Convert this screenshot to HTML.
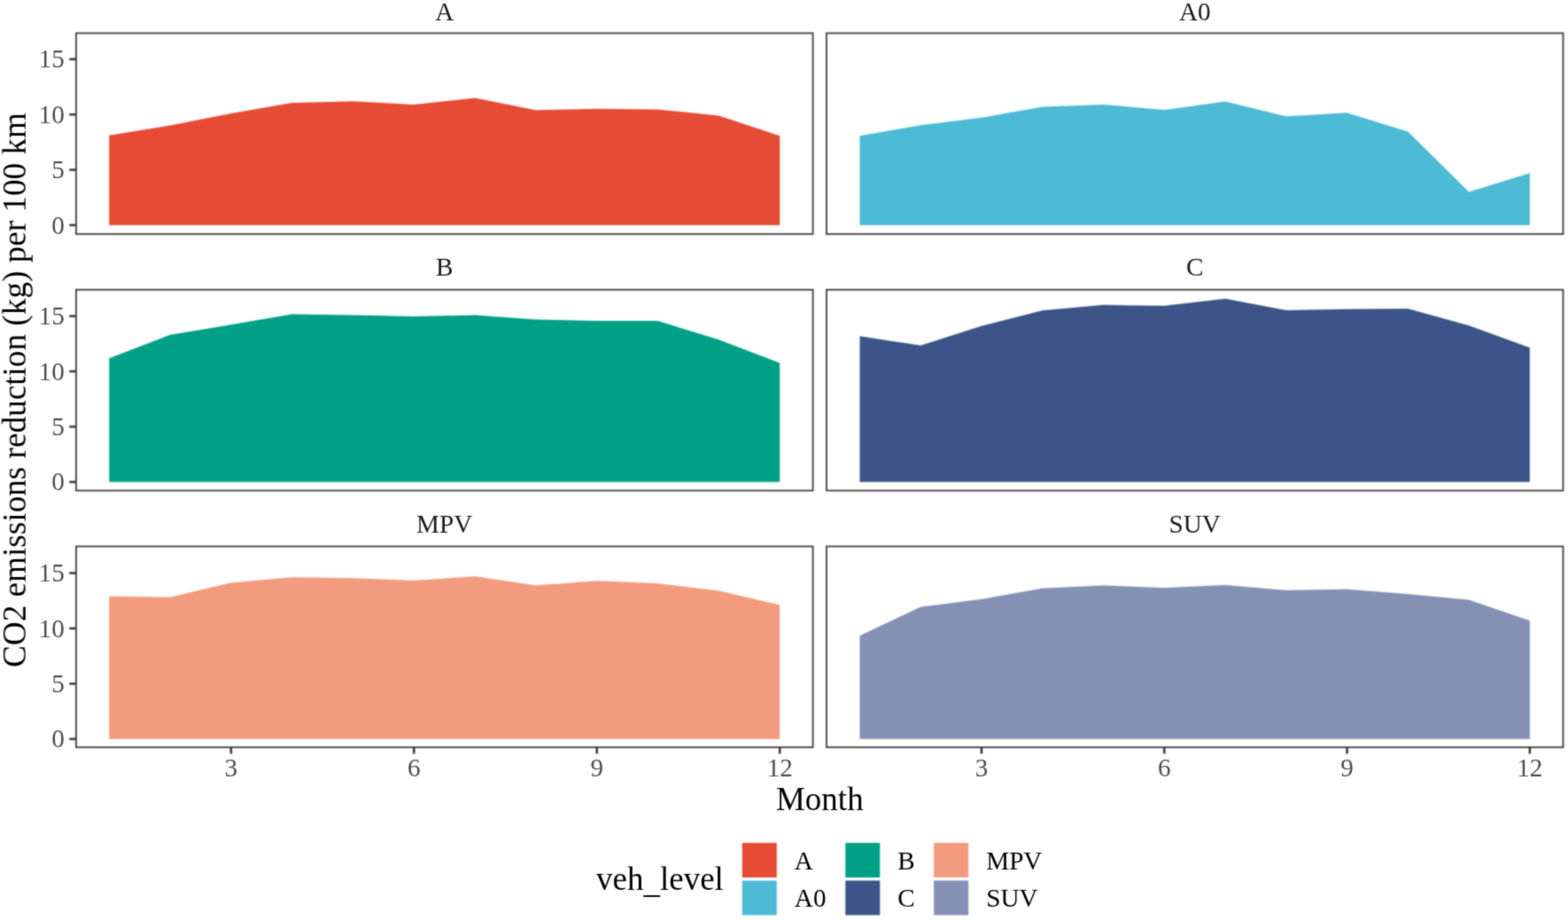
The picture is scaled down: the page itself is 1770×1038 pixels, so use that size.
<!DOCTYPE html>
<html><head><meta charset="utf-8"><title>CO2 emissions reduction by vehicle level</title>
<style>
html,body{margin:0;padding:0;background:#fff;}
body{width:1770px;height:1038px;overflow:hidden;}
svg{display:block;}
text{font-family:"Liberation Serif", "Times New Roman", serif;}
</style></head>
<body>
<div id="w"><svg width="1770" height="1038" viewBox="0 0 1770 1038">
<defs><filter id="bl" filterUnits="userSpaceOnUse" x="-20" y="-20" width="1810" height="1078" color-interpolation-filters="sRGB"><feConvolveMatrix order="3" kernelMatrix="1 2 1 2 4 2 1 2 1" divisor="16" edgeMode="duplicate" preserveAlpha="true"/></filter><filter id="bt" filterUnits="userSpaceOnUse" x="-20" y="-20" width="1810" height="1078" color-interpolation-filters="sRGB"><feConvolveMatrix order="3" kernelMatrix="1 4 1 4 16 4 1 4 1" divisor="36" edgeMode="none" preserveAlpha="false"/></filter></defs>
<g filter="url(#bl)">
<rect x="-20" y="-20" width="1810" height="1078" fill="#fff"/>
<path d="M123.2 254 L123.2 152.66 L192.02 141.56 L260.84 128.08 L329.66 116.1 L398.48 114.35 L467.3 118.09 L536.12 110.48 L604.94 124.21 L673.76 122.84 L742.58 123.46 L811.4 130.57 L880.22 153.29 L880.22 254 Z" fill="#E64B35"/>
<path d="M970.5 254 L970.5 153.16 L1039.26 141.31 L1108.02 132.69 L1176.78 120.59 L1245.54 117.97 L1314.3 123.96 L1383.06 114.6 L1451.82 131.2 L1520.58 127.2 L1589.34 148.54 L1658.1 216.56 L1726.86 195.34 L1726.86 254 Z" fill="#4DBBD5"/>
<path d="M123.2 543.8 L123.2 404.15 L192.02 377.82 L260.84 366.33 L329.66 354.48 L398.48 355.6 L467.3 356.97 L536.12 355.6 L604.94 360.59 L673.76 361.97 L742.58 361.97 L811.4 383.18 L880.22 409.39 L880.22 543.8 Z" fill="#00A087"/>
<path d="M970.5 543.8 L970.5 379.19 L1039.26 389.8 L1108.02 367.71 L1176.78 350.36 L1245.54 344.12 L1314.3 344.99 L1383.06 337.01 L1451.82 349.99 L1520.58 348.74 L1589.34 348.36 L1658.1 367.33 L1726.86 392.17 L1726.86 543.8 Z" fill="#3C5488"/>
<path d="M123.2 833.8 L123.2 672.81 L192.02 673.68 L260.84 657.46 L329.66 651.34 L398.48 652.34 L467.3 654.96 L536.12 650.34 L604.94 660.45 L673.76 655.34 L742.58 658.21 L811.4 666.44 L880.22 682.54 L880.22 833.8 Z" fill="#F39B7F"/>
<path d="M970.5 833.8 L970.5 717.24 L1039.26 684.66 L1108.02 675.93 L1176.78 663.82 L1245.54 660.45 L1314.3 663.2 L1383.06 660.08 L1451.82 665.94 L1520.58 664.7 L1589.34 670.19 L1658.1 676.68 L1726.86 700.14 L1726.86 833.8 Z" fill="#8491B4"/>
<rect x="85.9" y="37.45" width="831.7" height="226.65" fill="none" stroke="#333333" stroke-width="1.7"/>
<rect x="933" y="37.45" width="831.5" height="226.65" fill="none" stroke="#333333" stroke-width="1.7"/>
<rect x="85.9" y="326.9" width="831.7" height="226.6" fill="none" stroke="#333333" stroke-width="1.7"/>
<rect x="933" y="326.9" width="831.5" height="226.6" fill="none" stroke="#333333" stroke-width="1.7"/>
<rect x="85.9" y="616.5" width="831.7" height="226.65" fill="none" stroke="#333333" stroke-width="1.7"/>
<rect x="933" y="616.5" width="831.5" height="226.65" fill="none" stroke="#333333" stroke-width="1.7"/>
<line x1="78.3" x2="86" y1="254" y2="254" stroke="#333333" stroke-width="2.5"/>
<line x1="78.3" x2="86" y1="191.6" y2="191.6" stroke="#333333" stroke-width="2.5"/>
<line x1="78.3" x2="86" y1="129.2" y2="129.2" stroke="#333333" stroke-width="2.5"/>
<line x1="78.3" x2="86" y1="66.8" y2="66.8" stroke="#333333" stroke-width="2.5"/>
<line x1="78.3" x2="86" y1="543.8" y2="543.8" stroke="#333333" stroke-width="2.5"/>
<line x1="78.3" x2="86" y1="481.4" y2="481.4" stroke="#333333" stroke-width="2.5"/>
<line x1="78.3" x2="86" y1="419" y2="419" stroke="#333333" stroke-width="2.5"/>
<line x1="78.3" x2="86" y1="356.6" y2="356.6" stroke="#333333" stroke-width="2.5"/>
<line x1="78.3" x2="86" y1="833.8" y2="833.8" stroke="#333333" stroke-width="2.5"/>
<line x1="78.3" x2="86" y1="771.4" y2="771.4" stroke="#333333" stroke-width="2.5"/>
<line x1="78.3" x2="86" y1="709" y2="709" stroke="#333333" stroke-width="2.5"/>
<line x1="78.3" x2="86" y1="646.6" y2="646.6" stroke="#333333" stroke-width="2.5"/>
<line x1="260.84" x2="260.84" y1="843.15" y2="850.45" stroke="#333333" stroke-width="2.5"/>
<line x1="467.3" x2="467.3" y1="843.15" y2="850.45" stroke="#333333" stroke-width="2.5"/>
<line x1="673.76" x2="673.76" y1="843.15" y2="850.45" stroke="#333333" stroke-width="2.5"/>
<line x1="880.22" x2="880.22" y1="843.15" y2="850.45" stroke="#333333" stroke-width="2.5"/>
<line x1="1108.02" x2="1108.02" y1="843.15" y2="850.45" stroke="#333333" stroke-width="2.5"/>
<line x1="1314.3" x2="1314.3" y1="843.15" y2="850.45" stroke="#333333" stroke-width="2.5"/>
<line x1="1520.58" x2="1520.58" y1="843.15" y2="850.45" stroke="#333333" stroke-width="2.5"/>
<line x1="1726.86" x2="1726.86" y1="843.15" y2="850.45" stroke="#333333" stroke-width="2.5"/>
<rect x="837.8" y="951" width="39" height="39" fill="#E64B35"/>
<rect x="837.8" y="993.5" width="39" height="39" fill="#4DBBD5"/>
<rect x="954.3" y="951" width="39" height="39" fill="#00A087"/>
<rect x="954.3" y="993.5" width="39" height="39" fill="#3C5488"/>
<rect x="1054.2" y="951" width="39" height="39" fill="#F39B7F"/>
<rect x="1054.2" y="993.5" width="39" height="39" fill="#8491B4"/>
</g>
<g filter="url(#bt)">
<text x="501.75" y="22.5" font-size="29.2" fill="#1A1A1A" text-anchor="middle">A</text>
<text x="1348.75" y="22.5" font-size="29.2" fill="#1A1A1A" text-anchor="middle">A0</text>
<text x="501.75" y="310.9" font-size="29.2" fill="#1A1A1A" text-anchor="middle">B</text>
<text x="1348.75" y="310.9" font-size="29.2" fill="#1A1A1A" text-anchor="middle">C</text>
<text x="501.75" y="601.2" font-size="29.2" fill="#1A1A1A" text-anchor="middle">MPV</text>
<text x="1348.75" y="601.2" font-size="29.2" fill="#1A1A1A" text-anchor="middle">SUV</text>
<text x="72.8" y="263.6" font-size="29.2" fill="#4D4D4D" text-anchor="end">0</text>
<text x="72.8" y="201.2" font-size="29.2" fill="#4D4D4D" text-anchor="end">5</text>
<text x="72.8" y="138.8" font-size="29.2" fill="#4D4D4D" text-anchor="end">10</text>
<text x="72.8" y="76.4" font-size="29.2" fill="#4D4D4D" text-anchor="end">15</text>
<text x="72.8" y="553.4" font-size="29.2" fill="#4D4D4D" text-anchor="end">0</text>
<text x="72.8" y="491" font-size="29.2" fill="#4D4D4D" text-anchor="end">5</text>
<text x="72.8" y="428.6" font-size="29.2" fill="#4D4D4D" text-anchor="end">10</text>
<text x="72.8" y="366.2" font-size="29.2" fill="#4D4D4D" text-anchor="end">15</text>
<text x="72.8" y="843.4" font-size="29.2" fill="#4D4D4D" text-anchor="end">0</text>
<text x="72.8" y="781" font-size="29.2" fill="#4D4D4D" text-anchor="end">5</text>
<text x="72.8" y="718.6" font-size="29.2" fill="#4D4D4D" text-anchor="end">10</text>
<text x="72.8" y="656.2" font-size="29.2" fill="#4D4D4D" text-anchor="end">15</text>
<text x="260.84" y="876.1" font-size="29.2" fill="#4D4D4D" text-anchor="middle">3</text>
<text x="467.3" y="876.1" font-size="29.2" fill="#4D4D4D" text-anchor="middle">6</text>
<text x="673.76" y="876.1" font-size="29.2" fill="#4D4D4D" text-anchor="middle">9</text>
<text x="880.22" y="876.1" font-size="29.2" fill="#4D4D4D" text-anchor="middle">12</text>
<text x="1108.02" y="876.1" font-size="29.2" fill="#4D4D4D" text-anchor="middle">3</text>
<text x="1314.3" y="876.1" font-size="29.2" fill="#4D4D4D" text-anchor="middle">6</text>
<text x="1520.58" y="876.1" font-size="29.2" fill="#4D4D4D" text-anchor="middle">9</text>
<text x="1726.86" y="876.1" font-size="29.2" fill="#4D4D4D" text-anchor="middle">12</text>
<text x="925.3" y="914" font-size="37" fill="#000" text-anchor="middle">Month</text>
<text transform="translate(28.8 440) rotate(-90)" x="0" y="0" font-size="37.2" fill="#000" text-anchor="middle">CO2 emissions reduction (kg) per 100 km</text>
<text x="673" y="1004" font-size="37" fill="#000">veh<tspan dy="2.8">_</tspan><tspan dy="-2.8">level</tspan></text>
<text x="896.8" y="980.7" font-size="29.2" fill="#000" text-anchor="start">A</text>
<text x="896.8" y="1023.2" font-size="29.2" fill="#000" text-anchor="start">A0</text>
<text x="1013.3" y="980.7" font-size="29.2" fill="#000" text-anchor="start">B</text>
<text x="1013.3" y="1023.2" font-size="29.2" fill="#000" text-anchor="start">C</text>
<text x="1113.2" y="980.7" font-size="29.2" fill="#000" text-anchor="start">MPV</text>
<text x="1113.2" y="1023.2" font-size="29.2" fill="#000" text-anchor="start">SUV</text>
</g>
</svg></div>
</body></html>
